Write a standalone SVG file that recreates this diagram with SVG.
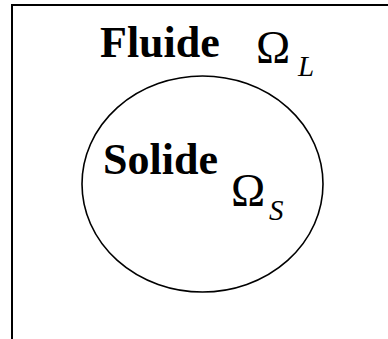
<svg xmlns="http://www.w3.org/2000/svg" width="388" height="339" viewBox="0 0 388 339">
<style>
.lbl{font-family:"Liberation Serif","Times New Roman",serif;font-weight:bold;font-size:44px;fill:#000}
.om{font-family:"Liberation Serif","Times New Roman",serif;font-size:46px;fill:#000}
.sub{font-family:"Liberation Serif","Times New Roman",serif;font-style:italic;font-size:29px;fill:#000}
.ln{fill:none;stroke:#000;stroke-width:2}
.el{fill:none;stroke:#000;stroke-width:1.6}
</style>
<rect width="388" height="339" fill="#fff"/>
<g id="frame">
<polyline class="ln" points="12,339 12,5 388,5"/>
</g>
<g id="fluide">
<text class="lbl" x="100" y="57">Fluide</text>
<text class="om" x="256" y="63">Ω</text>
<text class="sub" x="298" y="76">L</text>
</g>
<g id="solide">
<ellipse class="el" cx="202.5" cy="184" rx="120.5" ry="108"/>
<text class="lbl" x="103" y="174">Solide</text>
<text class="om" x="231" y="206">Ω</text>
<text class="sub" x="269" y="220">S</text>
</g>
</svg>
